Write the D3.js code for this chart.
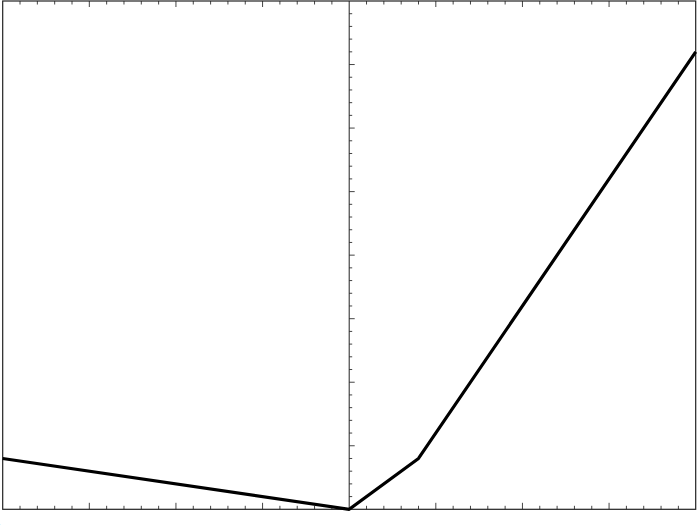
<!DOCTYPE html>
<html>
<head>
<meta charset="utf-8">
<script src="https://cdn.jsdelivr.net/npm/d3@7"></script>
<style>
  html, body { margin: 0; padding: 0; background: #fff; }
  svg { display: block; }
</style>
</head>
<body>
<div id="chart"></div>
<script>
// curve vertices (x, y)
const xs = [-4, 0, 0.8, 4];
const ys = [0.8, 0, 0.8, 7.2];
// tick positions
const xMajor = [-4, -3, -2, -1, 0, 1, 2, 3, 4];
const yMajor = [0, 1, 2, 3, 4, 5, 6, 7, 8];
const minorStep = 0.2;

document.addEventListener('DOMContentLoaded', function() {
    const W = 700, H = 525;
    const svg = d3.select('#chart').append('svg')
        .attr('width', W)
        .attr('height', H);

    const x = d3.scaleLinear().domain([-4, 4]).range([2.7, 695.7]);
    const y = d3.scaleLinear().domain([0, 8]).range([509.3, 1]);

    const minorX = d3.range(-4, 4.0001, minorStep).filter(v => Math.abs(v - Math.round(v)) > 1e-6);
    const minorY = d3.range(0, 8.0001, minorStep).filter(v => Math.abs(v - Math.round(v)) > 1e-6);

    const tickColor = '#444';

    // bottom frame ticks (pointing up)
    const g = svg.append('g').attr('stroke', tickColor).attr('stroke-width', 1);
    g.selectAll('.bmin').data(minorX).enter().append('line')
        .attr('x1', d => x(d)).attr('x2', d => x(d))
        .attr('y1', y(0)).attr('y2', y(0) - 3.5);
    g.selectAll('.bmaj').data(xMajor.slice(1, -1).filter(d => d !== 0)).enter().append('line')
        .attr('x1', d => x(d)).attr('x2', d => x(d))
        .attr('y1', y(0)).attr('y2', y(0) - 6.5);

    // top frame ticks (pointing down)
    g.selectAll('.tmin').data(minorX).enter().append('line')
        .attr('x1', d => x(d)).attr('x2', d => x(d))
        .attr('y1', y(8)).attr('y2', y(8) + 3.5);
    g.selectAll('.tmaj').data(xMajor.slice(1, -1).filter(d => d !== 0)).enter().append('line')
        .attr('x1', d => x(d)).attr('x2', d => x(d))
        .attr('y1', y(8)).attr('y2', y(8) + 6);

    // vertical axis at x = 0, ticks to the right
    g.selectAll('.ymin').data(minorY).enter().append('line')
        .attr('x1', x(0)).attr('x2', x(0) + 3)
        .attr('y1', d => y(d)).attr('y2', d => y(d));
    g.selectAll('.ymaj').data(yMajor.slice(1, -1)).enter().append('line')
        .attr('x1', x(0)).attr('x2', x(0) + 5.5)
        .attr('y1', d => y(d)).attr('y2', d => y(d));

    svg.append('line')
        .attr('x1', x(0)).attr('x2', x(0))
        .attr('y1', y(0)).attr('y2', y(8))
        .attr('stroke', '#222').attr('stroke-width', 1);

    // frame
    svg.append('rect')
        .attr('x', x(-4)).attr('y', y(8))
        .attr('width', x(4) - x(-4)).attr('height', y(0) - y(8))
        .attr('fill', 'none')
        .attr('stroke', '#222')
        .attr('stroke-width', 1.2);

    // curve
    const pts = xs.map((d, i) => [d, ys[i]]);
    svg.append('path')
        .datum(pts)
        .attr('fill', 'none')
        .attr('stroke', '#000')
        .attr('stroke-width', 3.2)
        .attr('stroke-linejoin', 'round')
        .attr('d', d3.line().x(d => x(d[0])).y(d => y(d[1])));

    // clipped tick label at the lower left edge
    svg.append('text')
        .attr('x', 1.5).attr('y', 532)
        .attr('text-anchor', 'end')
        .attr('font-family', 'DejaVu Sans, sans-serif')
        .attr('font-size', 11)
        .attr('fill', '#555')
        .text('−4');
});
</script>
</body>
</html>
